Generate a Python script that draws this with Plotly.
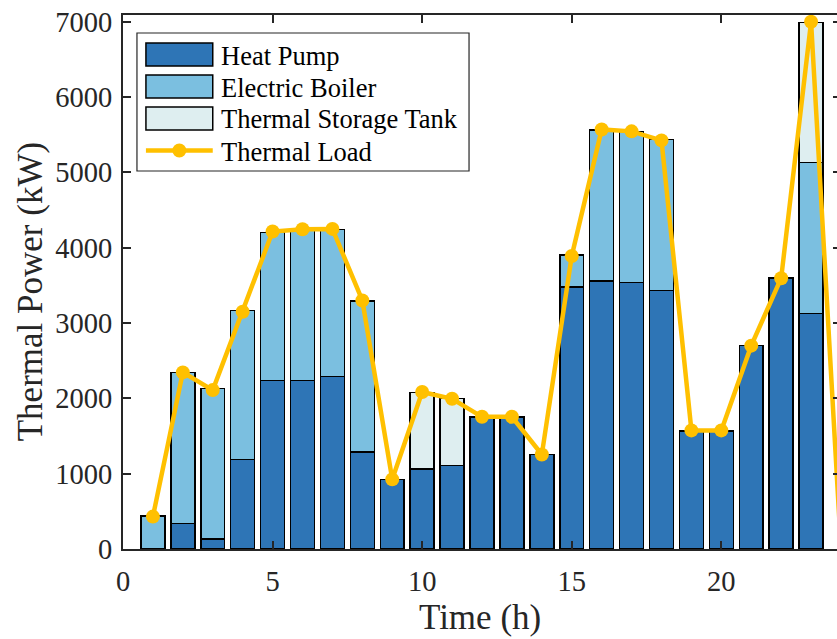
import plotly.graph_objects as go

# Hourly thermal supply breakdown and load (kW); None = no contribution that hour
hours = list(range(1, 24))
heat_pump = [None, 340, 130, 1190, 2235, 2235, 2290, 1290, 920, 1065, 1110, 1750,
             1750, 1255, 3480, 3560, 3540, 3435, 1570, 1570, 2700, 3600, 3130]
electric_boiler = [440, 2005, 2000, 1975, 1970, 2005, 1950, 2000, None, None, None, None,
                   None, None, 425, 2000, 2000, 2000, None, None, None, None, 2000]
storage_tank = [None, None, None, None, None, None, None, None, None, 1015, 885, None,
                None, None, None, None, None, None, None, None, None, None, 1860]
load_hours = list(range(1, 25))
thermal_load = [430, 2345, 2110, 3150, 4215, 4245, 4250, 3300, 925, 2085, 1995, 1755,
                1755, 1255, 3890, 5570, 5545, 5425, 1575, 1575, 2700, 3595, 7000, 0]

series_names = ["Heat Pump", "Electric Boiler", "Thermal Storage Tank", "Thermal Load"]
colors = ["#2E75B6", "#7BBFE0", "#DEEEF0", "#FFC000"]

FONT = "Liberation Serif, Times New Roman, serif"
INK = "#262626"

# plot-area geometry in pixels
FIG_W, FIG_H = 845, 639
L, R, T, B = 123, 843, 15, 549
W, H = R - L, B - T


def px(xp):
    return (xp - L) / W


def py(yp):
    return (B - yp) / H


fig = go.Figure()
for vals, name, col in zip([heat_pump, electric_boiler, storage_tank], series_names[:3], colors[:3]):
    fig.add_trace(go.Bar(
        x=hours, y=vals, name=name, width=0.8,
        marker=dict(color=col, line=dict(color="black", width=1.5)),
        showlegend=False,
    ))

# markers on the plotted hours; the closing point on the frame edge carries none
marker_sizes = [14 if h < 24 else 0 for h in load_hours]
fig.add_trace(go.Scatter(
    x=load_hours, y=thermal_load, name=series_names[3], mode="lines+markers",
    line=dict(color=colors[3], width=4.5),
    marker=dict(color=colors[3], size=marker_sizes, opacity=1,
                line=dict(width=0, color=colors[3])),
    showlegend=False,
))

# legend box
shapes = [dict(type="rect", xref="paper", yref="paper",
               x0=px(137), x1=px(470), y0=py(171), y1=py(33),
               line=dict(color=INK, width=1.2), fillcolor="white", layer="above")]
annotations = []
rows = [54.5, 86.5, 118.5, 150.5]
for i, (name, col) in enumerate(zip(series_names, colors)):
    yc = rows[i]
    if i < 3:
        shapes.append(dict(type="rect", xref="paper", yref="paper",
                           x0=px(146), x1=px(213), y0=py(yc + 11.5), y1=py(yc - 11.5),
                           line=dict(color="black", width=1.5), fillcolor=col, layer="above"))
    else:
        shapes.append(dict(type="line", xref="paper", yref="paper",
                           x0=px(146), x1=px(213), y0=py(yc), y1=py(yc),
                           line=dict(color=col, width=4.5), layer="above"))
        shapes.append(dict(type="circle", xref="paper", yref="paper",
                           x0=px(172.5), x1=px(186.5), y0=py(yc + 7), y1=py(yc - 7),
                           line=dict(color=col, width=0), fillcolor=col, layer="above"))
    annotations.append(dict(xref="paper", yref="paper", x=px(219), y=py(yc + 1),
                            text=name, showarrow=False, xanchor="left", yanchor="middle",
                            font=dict(family=FONT, size=26.5, color="black")))

# axis titles
annotations.append(dict(xref="paper", yref="paper", x=px(481), y=py(617), text="Time (h)",
                        showarrow=False, xanchor="center", yanchor="middle",
                        font=dict(family=FONT, size=35, color=INK)))
annotations.append(dict(xref="paper", yref="paper", x=px(30), y=py(292),
                        text="Thermal Power (kW)", textangle=-90,
                        showarrow=False, xanchor="center", yanchor="middle",
                        font=dict(family=FONT, size=35, color=INK)))

fig.update_layout(
    width=FIG_W, height=FIG_H,
    margin=dict(l=L, r=FIG_W - R, t=T, b=FIG_H - B),
    paper_bgcolor="white", plot_bgcolor="white",
    barmode="stack",
    font=dict(family=FONT, size=28.5, color=INK),
    shapes=shapes, annotations=annotations,
    xaxis=dict(range=[0, 24], tickvals=[0, 5, 10, 15, 20], ticks="inside", ticklen=8,
               tickwidth=1.5, tickcolor=INK, showline=True, linecolor=INK, linewidth=2,
               mirror="ticks", showgrid=False, zeroline=False, ticklabelstandoff=6),
    yaxis=dict(range=[0, 7090], tickvals=list(range(0, 7001, 1000)), ticks="inside",
               ticklen=8, tickwidth=1.5, tickcolor=INK, showline=True, linecolor=INK,
               linewidth=2, mirror="ticks", showgrid=False, zeroline=False,
               ticklabelstandoff=3),
)

fig.write_html("out.html", post_script=(
    "document.documentElement.style.overflow='hidden';"
    "document.body.style.overflow='hidden';document.body.style.margin='0';"
))
